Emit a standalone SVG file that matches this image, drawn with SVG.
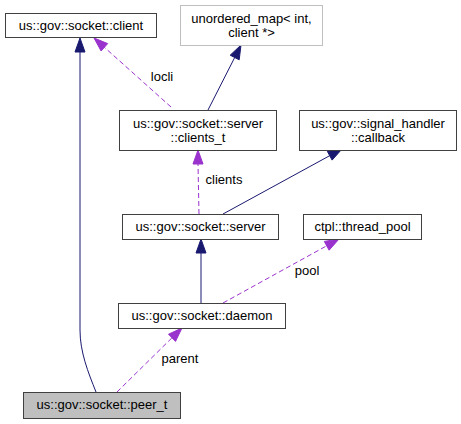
<svg xmlns="http://www.w3.org/2000/svg" width="461" height="424" viewBox="0 0 461 424">
<style>
text{font-family:"Liberation Sans",Arial,Helvetica,sans-serif;font-size:13px;fill:#000;text-anchor:middle}
.box{fill:#fff;stroke:#404040;stroke-width:1}
.gbox{fill:#fff;stroke:#bfbfbf;stroke-width:1}
.cur{fill:#bfbfbf;stroke:#404040;stroke-width:1}
.inh{fill:none;stroke:#191970;stroke-width:1}
.inhh{fill:#191970;stroke:#191970}
.use{fill:none;stroke:#9a32cd;stroke-width:1;stroke-dasharray:5,3}
.useh{fill:#9a32cd;stroke:#9a32cd}
</style>
<rect width="461" height="424" fill="#fff"/>
<g id="edges">
<path class="inh" d="M96,392 C88,372 80,352 80,330 L80,52"/>
<polygon class="inhh" points="80,38 75,52 85,52"/>
<path class="use" d="M171,107 L104.4,47.3"/>
<polygon class="useh" points="94,38 101.1,51 107.7,43.6"/>
<text x="162" y="81">locli</text>
<path class="use" d="M199,214 L198,164"/>
<polygon class="useh" points="198,150 193,164 203,164"/>
<text x="224" y="184">clients</text>
<path class="inh" d="M208,110 L234.7,57.5"/>
<polygon class="inhh" points="241,45 239.2,59.8 230.2,55.2"/>
<path class="inh" d="M223,214 L329.7,155.7"/>
<polygon class="inhh" points="342,149 332.1,160.1 327.3,151.3"/>
<path class="inh" d="M201,303 L201,253"/>
<polygon class="inhh" points="201,239 196,253 206,253"/>
<path class="use" d="M223,303 L326.7,245.8"/>
<polygon class="useh" points="339,239 329.1,250.2 324.3,241.4"/>
<text x="307" y="275">pool</text>
<path class="use" d="M117,392 L172,337.8"/>
<polygon class="useh" points="182,328 175.5,341.4 168.5,334.2"/>
<text x="180" y="363">parent</text>
</g>
<g id="client"><rect class="box" x="5.5" y="13.5" width="151" height="24"/><text x="81" y="29.5">us::gov::socket::client</text></g>
<g id="unordered_map"><rect class="gbox" x="180.5" y="5.5" width="142" height="40"/><text x="251.5" y="23">unordered_map&lt; int,</text><text x="251.5" y="37">client *&gt;</text></g>
<g id="clients_t"><rect class="box" x="119.5" y="110.5" width="157" height="40"/><text x="198" y="128">us::gov::socket::server</text><text x="198" y="142">::clients_t</text></g>
<g id="callback"><rect class="box" x="299.5" y="110.5" width="157" height="40"/><text x="378" y="128">us::gov::signal_handler</text><text x="378" y="142">::callback</text></g>
<g id="server"><rect class="box" x="122.5" y="214.5" width="156" height="25"/><text x="200.5" y="230.5">us::gov::socket::server</text></g>
<g id="thread_pool"><rect class="box" x="303.5" y="214.5" width="118" height="25"/><text x="362.5" y="230.5">ctpl::thread_pool</text></g>
<g id="daemon"><rect class="box" x="118.5" y="303.5" width="167" height="25"/><text x="202" y="319.5">us::gov::socket::daemon</text></g>
<g id="peer_t"><rect class="cur" x="23.5" y="392.5" width="157" height="26"/><text x="102" y="408.5">us::gov::socket::peer_t</text></g>
</svg>
